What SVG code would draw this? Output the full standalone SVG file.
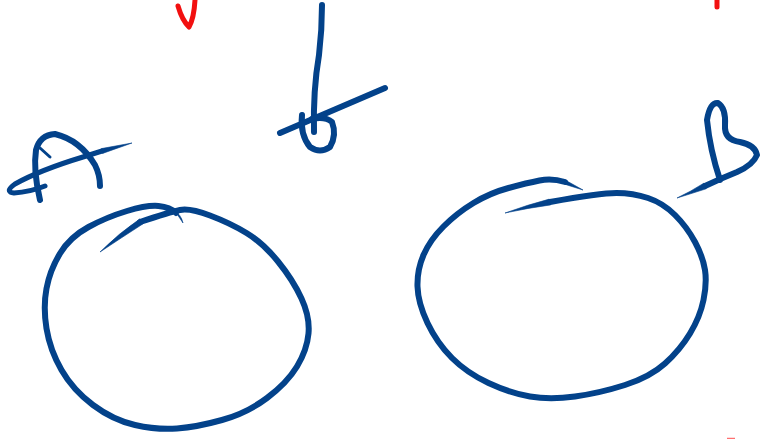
<svg xmlns="http://www.w3.org/2000/svg" width="764" height="439" viewBox="0 0 764 439">
<style>
.ink{fill:none;stroke:#03428a;stroke-linecap:round;stroke-linejoin:round}
.taper{fill:#03428a;stroke:#03428a;stroke-width:0.6;stroke-linejoin:round}
.w6{stroke-width:6}
.w5{stroke-width:5}
.w3{stroke-width:3}
.red{fill:none;stroke:#f21010;stroke-linecap:round;stroke-linejoin:round}
</style>
<rect width="764" height="439" fill="#ffffff"/>
<g id="red-marks">
<path class="red" stroke-width="5" d="M178,6 Q182,20 189,27 Q194,18 195,0"/>
<path class="red" stroke-width="5" d="M717,0 L717,7"/>
<path stroke="#ff7070" stroke-width="1.5" d="M727,438.5 L735,438.5"/>
</g>
<g id="letter-A">
<path class="ink w6" d="M40,200 Q33,170 36,150 Q40,135 55,134 Q80,140 95,165 Q100,175 100,186"/>
<path class="ink w3" d="M40,148 L50,157"/>
<path class="taper" d="M132,143 L102.6,153.4 L101.4,148.6 Z"/>
<path class="ink w5" d="M102,151 L83,157 Q40,170 15,184 Q4,192 14,193 Q30,192 45,186"/>
</g>
<g id="letter-b">
<path class="ink w6" d="M322,5 Q322,30 319,55 Q313,90 314,132"/>
<path class="ink w6" d="M302,115 Q300,135 310,147 Q320,154 330,147 Q337,135 332,122 Q325,116 312,119"/>
<path class="ink w6" d="M280,133 L385,88"/>
</g>
<g id="letter-B">
<path class="ink w6" d="M720,180 Q710,150 707,120 Q710,102 718,103 Q726,108 725,125 Q724,140 740,142 Q755,145 757,155 Q753,165 737,172 Q722,178 705,186"/>
<path class="taper" d="M706.2,188.8 Q690,194 677,198 Q690,192 703.8,183.2 Z"/>
</g>
<g id="circle-A">
<path class="taper" d="M100,252 Q119,233 140,218.8 L143.5,223.5 Q121,238 100,252 Z"/>
<path class="ink w6" d="M140,222 Q170,212 180,210 Q190,208 210,215.5 Q230,223 246.5,233 Q263,243 278,261.5 Q293,280 301.5,298.5 Q310,317 308.5,333.5 Q307,350 297,366.5 Q287,383 267,398 Q247,413 222,420 Q197,427 177,428.5 Q157,430 135,425 Q113,420 93,405 Q73,390 61.5,370 Q50,350 46.5,328.5 Q43,307 46.5,288.5 Q50,270 60,253.5 Q70,237 88.5,227 Q107,217 127,211 Q147,205 158.5,206 Q170,207 176,213"/>
<path class="taper" d="M173.8,210.8 Q181,214 183,223 Q179,217 177.8,215.2 Z"/>
</g>
<g id="circle-B">
<path class="taper" d="M505,213 Q527,205 549.3,199.1 L550.7,204.9 Q528,208 505,213 Z"/>
<path class="ink w6" d="M550,202 Q600,193 616.5,193 Q633,193 648,198 Q663,203 675,215 Q687,227 695,242 Q703,257 705,270 Q707,283 703.5,300 Q700,317 690,333.5 Q680,350 665,363.5 Q650,377 625,385 Q600,393 575,396.5 Q550,400 530,396.5 Q510,393 488.5,383 Q467,373 452,358 Q437,343 427.5,323 Q418,303 417.5,286.5 Q417,270 423.5,255 Q430,240 443.5,226.5 Q457,213 473.5,203 Q490,193 508.5,188 Q527,183 539.5,180.5 Q552,178 565,182"/>
<path class="taper" d="M563.8,179.3 L583,190 L566.2,184.7 Z"/>
</g>
</svg>
